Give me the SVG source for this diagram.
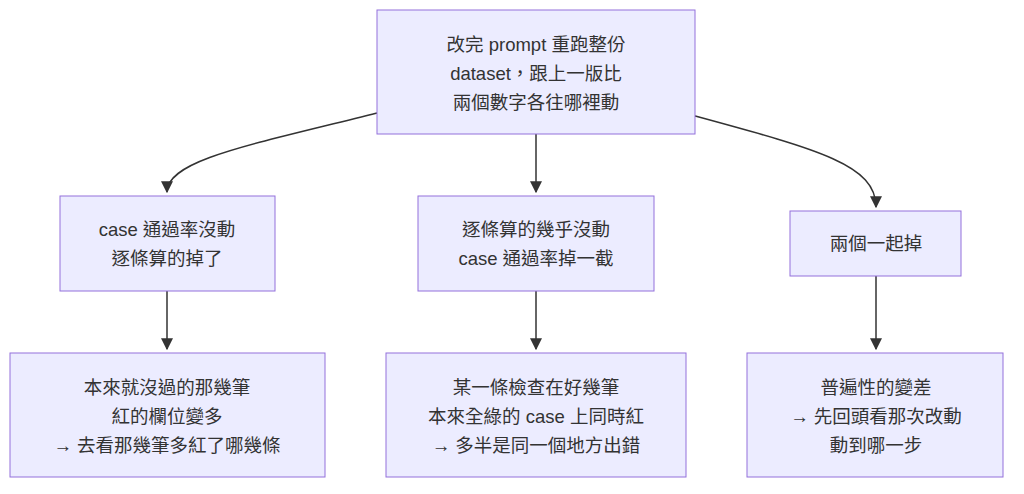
<svg xmlns="http://www.w3.org/2000/svg" width="1024" height="494" viewBox="0 0 1024 494">
<style>
.n rect{fill:#ECECFF;stroke:#9370DB;stroke-width:1}
text{font-family:"Liberation Sans","Noto Sans CJK TC",sans-serif;font-size:18.5px;fill:#333;text-anchor:middle}
.e path{fill:none;stroke:#333;stroke-width:1.5}
</style>
<defs><marker id="a" viewBox="0 0 10 10" refX="9" refY="5" markerWidth="8" markerHeight="8" orient="auto"><path d="M0,0L10,5L0,10z" fill="#333"/></marker></defs>
<rect width="1024" height="494" fill="#fff"/>
<g class="e">
<path d="M377,113 C250,145 167,160 167,192" marker-end="url(#a)"/>
<path d="M536,134 L536,192" marker-end="url(#a)"/>
<path d="M695,116 C820,150 876,165 876,207" marker-end="url(#a)"/>
<path d="M167,291 L167,349" marker-end="url(#a)"/>
<path d="M536,291 L536,349" marker-end="url(#a)"/>
<path d="M876,276 L876,349" marker-end="url(#a)"/>
</g>
<g id="top" class="n"><rect x="377" y="10" width="318" height="124"/><text x="536" y="51">改完 prompt 重跑整份</text><text x="536" y="80">dataset，跟上一版比</text><text x="536" y="109">兩個數字各往哪裡動</text></g>
<g id="l1" class="n"><rect x="60" y="196" width="215" height="95"/><text x="167" y="236">case 通過率沒動</text><text x="167" y="265">逐條算的掉了</text></g>
<g id="c1" class="n"><rect x="418" y="196" width="236" height="95"/><text x="536" y="236">逐條算的幾乎沒動</text><text x="536" y="265">case 通過率掉一截</text></g>
<g id="r1" class="n"><rect x="790" y="211" width="171" height="65"/><text x="876" y="250">兩個一起掉</text></g>
<g id="l2" class="n"><rect x="10" y="353" width="315" height="124"/><text x="167" y="394">本來就沒過的那幾筆</text><text x="167" y="423">紅的欄位變多</text><text x="167" y="452">→ 去看那幾筆多紅了哪幾條</text></g>
<g id="c2" class="n"><rect x="386" y="353" width="300" height="124"/><text x="536" y="394">某一條檢查在好幾筆</text><text x="536" y="423">本來全綠的 case 上同時紅</text><text x="536" y="452">→ 多半是同一個地方出錯</text></g>
<g id="r2" class="n"><rect x="747" y="353" width="256" height="124"/><text x="876" y="394">普遍性的變差</text><text x="876" y="423">→ 先回頭看那次改動</text><text x="876" y="452">動到哪一步</text></g>
</svg>
